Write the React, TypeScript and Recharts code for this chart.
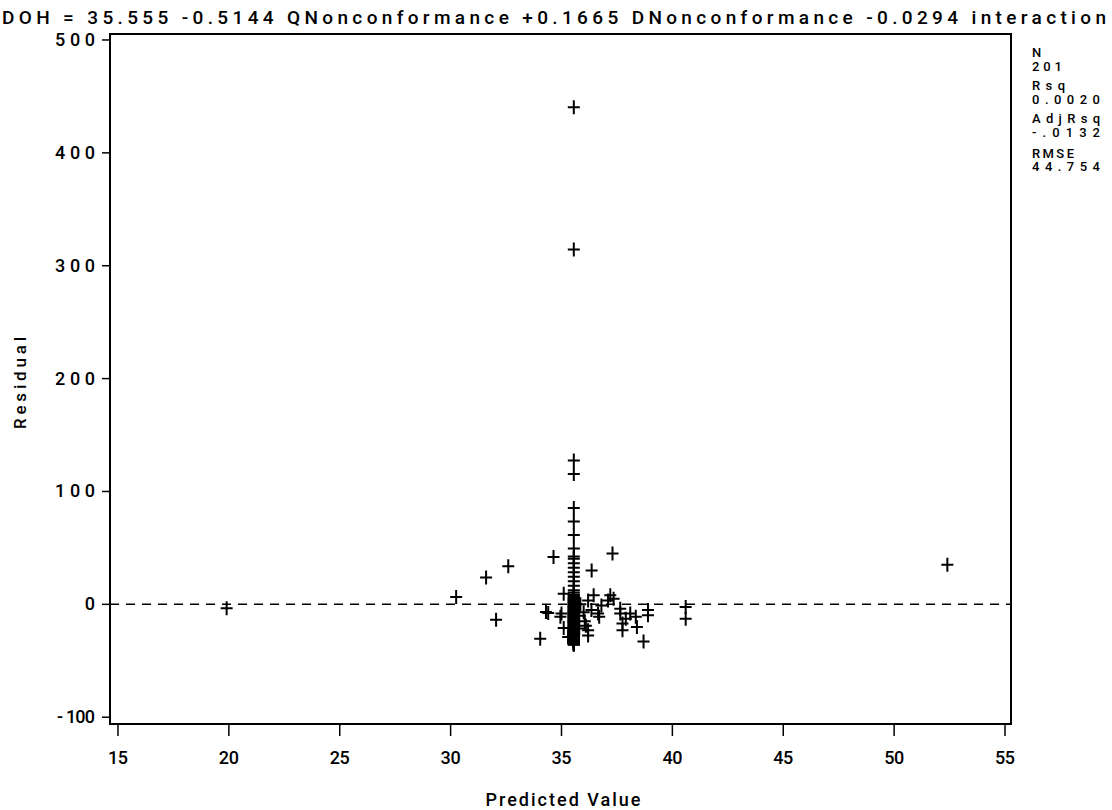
import React from 'react';
import { ScatterChart, Scatter, XAxis, YAxis, ReferenceLine, ReferenceArea } from 'recharts';

const FONT = 'Roboto, "Liberation Sans", Arial, sans-serif';
const FW = 500;

const titleText = 'DOH = 35.555 -0.5144 QNonconformance +0.1665 DNonconformance -0.0294 interaction';
const statLabels = ['N', '201', 'Rsq', '0.0020', 'AdjRsq', '-.0132', 'RMSE', '44.754'];
const xTicks = [15, 20, 25, 30, 35, 40, 45, 50, 55];
const yTicks = [-100, 0, 100, 200, 300, 400, 500];
const xDomain = [14.64, 55.27];
const yDomain = [-106, 505.3];

// predicted value shared by the observations at the intercept
const columnX = 35.555;
const columnResiduals = [
  440.4, 314.4, 127.4, 115.4, 85.4, 73.4, 61.4, 49.4, 42.4, 40.4, 36.4, 32.4, 28.4, 24.4, 20.4, 16.4, 12.4,
  10.4, 8.4, 7.4, 6.4, 5.4, 4.4, 4.4, 3.4, 2.4, 2.4, 1.4, 0.4, 0.4, -0.6, -1.6, -1.6, -2.6, -3.6, -3.6,
  -4.6, -5.6, -5.6, -6.6, -7.6, -7.6, -8.6, -9.6, -9.6, -10.6, -10.6, -11.6, -12.6, -12.6, -13.6, -14.6,
  -14.6, -15.6, -15.6, -16.6, -17.6, -17.6, -18.6, -19.6, -19.6, -20.6, -20.6, -21.6, -22.6, -22.6, -23.6,
  -23.6, -24.6, -25.6, -25.6, -26.6, -26.6, -27.6, -28.6, -28.6, -29.6, -30.6, -31.6, -32.6, -33.6, -34.6,
  -35.6, 8.4, 6.4, 4.4, 2.4, 0.4, -1.6, -2.6, -4.6, -5.6, -6.6, -8.6, -9.6, -10.6, -11.6, -12.6, -13.6,
  -14.6, -15.6, -16.6, -18.6, -19.6, -20.6, -21.6, -22.6, -24.6, -25.6, -26.6, -27.6, -29.6, -30.6, -31.6,
  -32.6, -33.6, -34.6, -35.6, -0.6, -3.6, -7.6, -10.6, -12.6, -14.6, -15.6, -17.6, -19.6, -20.6, -23.6,
  -24.6, -25.6, -27.6, -28.6, -30.6, -31.6, -33.6, -34.6, -35.6, -5.6, -9.6, -13.6, -16.6, -18.6, -21.6,
  -22.6, -26.6, -29.6, -32.6, 1.4, 3.4, 5.4, -2.6, -6.6, -11.6,
];

const otherPredicted = [
  19.9, 52.4, 30.25, 31.6, 32.6, 32.05, 34.04, 34.64, 34.4, 35.1, 34.95, 34.3, 35.0, 35.1, 35.3,
  37.3, 36.36, 36.45, 37.2, 37.35, 37.1, 36.2, 36.8, 36.35, 36.65, 36.0, 36.7, 37.65, 37.65, 37.9,
  38.1, 38.35, 37.75, 37.75, 38.4, 38.9, 38.9, 38.7, 40.6, 40.6, 35.8, 36.2, 36.2, 35.8, 36.05, 35.85, 36.1,
];
const otherResiduals = [
  -3.5, 35, 6.5, 23.7, 33.7, -13.6, -30.4, 42, -7.7, 9.5, -11, -6.8, -8, -21, -29,
  45, 30, 8, 8, 5, 3.5, 3.5, -1, -5, -8, -7, -11, -4, -8, -12.7,
  -8, -11, -17, -23, -20, -5, -9.7, -33, -2.4, -12.7, -21.5, -23, -27.5, -10, -15, 0, -19,
];

const points = [
  ...columnResiduals.map((r) => ({ x: columnX, y: r })),
  ...otherPredicted.map((p, i) => ({ x: p, y: otherResiduals[i] })),
];

const Plus = (props: any) => {
  const { cx, cy } = props;
  if (cx == null || cy == null) return null;
  return (
    <path
      d={`M${cx - 6},${cy}H${cx + 6}M${cx},${cy - 7}V${cy + 7}`}
      stroke="#000"
      strokeWidth={2}
      fill="none"
    />
  );
};

const XTick = (props: any) => {
  const { x, y, payload } = props;
  const s = String(payload.value);
  return (
    <text x={x} y={y} dy={26} textAnchor="middle" fontFamily={FONT} fontWeight={FW} fontSize={18} fill="#000"
      textLength={s.length * 10} lengthAdjust="spacing">
      {s}
    </text>
  );
};

const YTick = (props: any) => {
  const { x, y, payload } = props;
  const s = payload.value < 0 ? '- ' + String(-payload.value) : String(payload.value);
  const w = payload.value < 0 ? 38 : s.length * 14 - 2;
  return (
    <text x={x - 5} y={y} dy={6} textAnchor="end" fontFamily={FONT} fontWeight={FW} fontSize={18} fill="#000"
      textLength={w} lengthAdjust="spacing">
      {s}
    </text>
  );
};

const statY = [57, 71, 90, 104, 123, 137, 158, 171];
const statW = [10, 30, 33, 68, 68, 68, 42, 68];

export default function App() {
  return (
    <div style={{ position: 'absolute', left: 0, top: 0, width: 1112, height: 810, background: '#fff' }}>
      <ScatterChart
        width={1112}
        height={810}
        margin={{ top: 34, right: 101, bottom: 46, left: 10 }}
      >
        <XAxis
          dataKey="x"
          type="number"
          domain={xDomain}
          ticks={xTicks}
          allowDataOverflow
          axisLine={false}
          tickLine={{ stroke: '#000', strokeWidth: 1.5 }}
          tickSize={12}
          height={40}
          tick={<XTick />}
          interval={0}
        />
        <YAxis
          dataKey="y"
          type="number"
          domain={yDomain}
          ticks={yTicks}
          allowDataOverflow
          axisLine={false}
          tickLine={{ stroke: '#000', strokeWidth: 1.5 }}
          tickSize={8}
          width={100}
          tick={<YTick />}
          interval={0}
        />
        <ReferenceArea
          x1={xDomain[0]}
          x2={xDomain[1]}
          y1={yDomain[0]}
          y2={yDomain[1]}
          fill="none"
          fillOpacity={0}
          stroke="#000"
          strokeWidth={2}
          ifOverflow="visible"
        />
        <ReferenceLine y={0} stroke="#000" strokeWidth={1.5} strokeDasharray="9 7" />
        <Scatter data={points} shape={<Plus />} isAnimationActive={false} />
      </ScatterChart>
      <svg width={1112} height={810} style={{ position: 'absolute', left: 0, top: 0, pointerEvents: 'none' }}>
        <text x={2} y={24} fontFamily={FONT} fontWeight={FW} fontSize={19} fill="#000" textLength={1104} lengthAdjust="spacing">
          {titleText}
        </text>
        {statLabels.map((s, i) => (
          <text key={i} x={1032} y={statY[i]} fontFamily={FONT} fontWeight={FW} fontSize={13} fill="#000"
            textLength={statW[i]} lengthAdjust="spacing">
            {s}
          </text>
        ))}
        <text x={563} y={806} textAnchor="middle" fontFamily={FONT} fontWeight={FW} fontSize={18} fill="#000"
          textLength={155} lengthAdjust="spacing">
          Predicted Value
        </text>
        <text x={26} y={383} transform="rotate(-90 26 383)" textAnchor="middle" fontFamily={FONT} fontWeight={FW} fontSize={17}
          fill="#000" textLength={92} lengthAdjust="spacing">
          Residual
        </text>
      </svg>
    </div>
  );
}
